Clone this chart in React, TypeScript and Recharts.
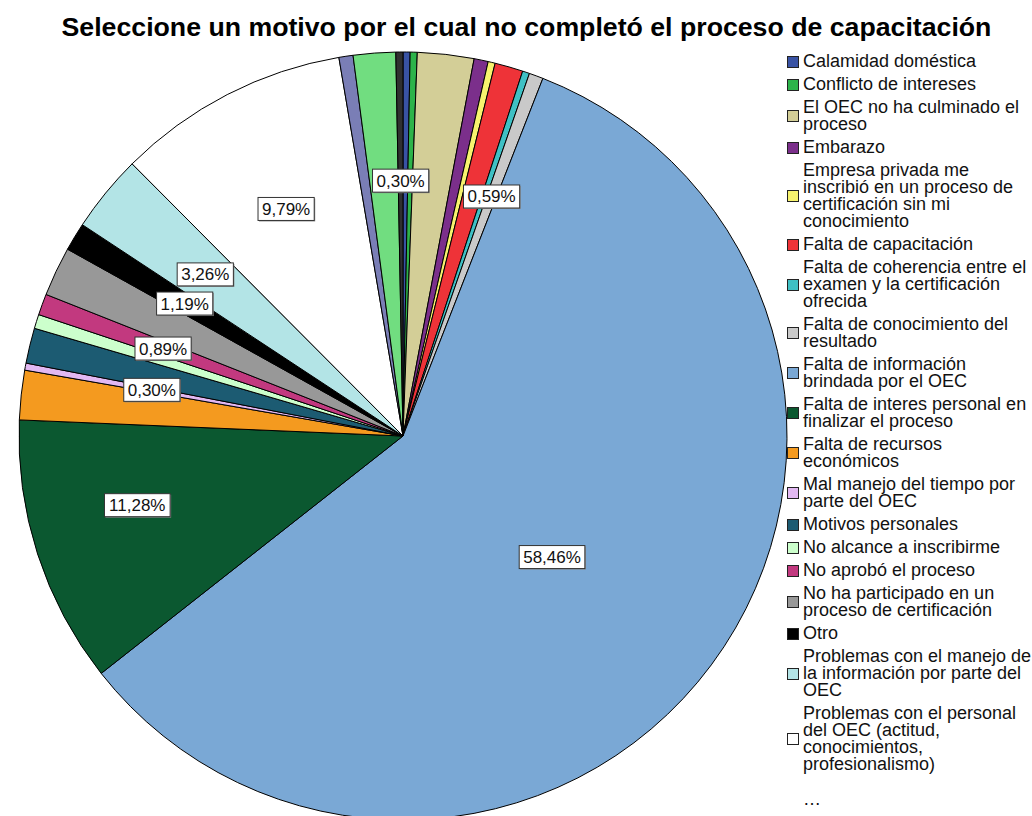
import React from 'react';
import { PieChart, Pie, Cell, Legend } from 'recharts';

// Respuestas (n = 337), en el orden de SPSS
const categories = [
  'Calamidad doméstica',
  'Conflicto de intereses',
  'El OEC no ha culminado el proceso',
  'Embarazo',
  'Empresa privada me inscribió en un proceso de certificación sin mi conocimiento',
  'Falta de capacitación',
  'Falta de coherencia entre el examen y la certificación ofrecida',
  'Falta de conocimiento del resultado',
  'Falta de información brindada por el OEC',
  'Falta de interes personal en finalizar el proceso',
  'Falta de recursos económicos',
  'Mal manejo del tiempo por parte del OEC',
  'Motivos personales',
  'No alcance a inscribirme',
  'No aprobó el proceso',
  'No ha participado en un proceso de certificación',
  'Otro',
  'Problemas con el manejo de la información por parte del OEC',
  'Problemas con el personal del OEC (actitud, conocimientos, profesionalismo)',
  'Otro motivo (a)',
  'Otro motivo (b)',
  'Otro motivo (c)',
];

const counts = [1, 1, 8, 2, 1, 4, 1, 2, 197, 38, 7, 1, 5, 2, 3, 7, 4, 11, 33, 2, 6, 1];

const colors = [
  '#3953a4', '#2db34a', '#d3ce97', '#7b2f8b', '#f7f36e', '#ee3338', '#3fc0c4',
  '#c9c9c9', '#7aa8d5', '#0b5830', '#f49a1f', '#e2b8f2', '#1c5b72', '#ccffcc',
  '#c2397f', '#989898', '#000000', '#b3e4e6', '#ffffff', '#7a7eb6', '#71dd80',
  '#303030',
];

// slices that carry a percentage label
const labeled = [
  'Falta de conocimiento del resultado',
  'Falta de información brindada por el OEC',
  'Falta de interes personal en finalizar el proceso',
  'Mal manejo del tiempo por parte del OEC',
  'No aprobó el proceso',
  'Otro',
  'Problemas con el manejo de la información por parte del OEC',
  'Problemas con el personal del OEC (actitud, conocimientos, profesionalismo)',
  'Otro motivo (c)',
];

// SPSS only lists the first 19 entries, then "…"
const legendShown = 19;

const data = categories.map((name, i) => ({ name, value: counts[i] }));

const FONT = '"Liberation Sans", Arial, sans-serif';
const RAD = Math.PI / 180;

const charW: Record<string, number> = { ',': 0.278, '%': 0.889 };
const textWidth = (s: string, size: number) =>
  s.split('').reduce((w, c) => w + (charW[c] ?? 0.556), 0) * size;

const renderLabel = (props: any) => {
  const { cx, cy, midAngle, outerRadius, percent, name } = props;
  if (!labeled.includes(name)) return null;
  let factor = 0.665;
  let shift = 0;
  if (name === 'Falta de información brindada por el OEC') {
    factor = 0.5;
    shift = -2.5;
  }
  if (name === 'Falta de interes personal en finalizar el proceso') {
    factor = 0.715;
    shift = -3.3;
  }
  const a = (midAngle + shift) * RAD;
  const r = outerRadius * factor;
  const x = cx + r * Math.cos(-a);
  const y = cy + r * Math.sin(-a);
  const text = (percent * 100).toFixed(2).replace('.', ',') + '%';
  const w = textWidth(text, 17) + 8;
  const h = 23;
  return (
    <g>
      <rect x={x - w / 2 + 1} y={y - h / 2 + 1} width={w} height={h} fill="#8a8a8a" />
      <rect x={x - w / 2} y={y - h / 2} width={w} height={h} fill="#ffffff" stroke="#333333" strokeWidth={1} />
      <text x={x} y={y + 6} textAnchor="middle" fontFamily={FONT} fontSize={17} fill="#111111">
        {text}
      </text>
    </g>
  );
};

const renderLegend = () => (
  <div style={{ fontFamily: FONT, fontSize: 18, lineHeight: '17px', color: '#111' }}>
    {categories.slice(0, legendShown).map((name, i) => (
      <div key={name} style={{ display: 'flex', alignItems: 'center', marginBottom: 6 }}>
        <span
          style={{
            width: 12,
            height: 12,
            boxSizing: 'border-box',
            border: '1px solid #222',
            background: colors[i],
            marginRight: 4,
            flex: 'none',
          }}
        />
        <span style={{ width: 230 }}>{name}</span>
      </div>
    ))}
    <div style={{ paddingLeft: 16, marginTop: 18 }}>…</div>
  </div>
);

export default function App() {
  return (
    <div
      style={{
        position: 'absolute',
        left: 0,
        top: 0,
        width: 1032,
        height: 816,
        overflow: 'hidden',
        background: '#ffffff',
      }}
    >
      <div
        style={{
          position: 'absolute',
          left: 0,
          top: 12,
          width: 1032,
          boxSizing: 'border-box',
          paddingLeft: 21,
          textAlign: 'center',
          fontFamily: FONT,
          fontWeight: 'bold',
          fontSize: 26.7,
          lineHeight: '30px',
          color: '#000',
          zIndex: 2,
          whiteSpace: 'nowrap',
        }}
      >
        Seleccione un motivo por el cual no completó el proceso de capacitación
      </div>
      <PieChart width={1032} height={816}>
        <Pie
          data={data}
          dataKey="value"
          nameKey="name"
          cx={398}
          cy={431}
          outerRadius={384}
          startAngle={90}
          endAngle={-270}
          stroke="#000000"
          strokeWidth={1}
          label={renderLabel}
          labelLine={false}
          isAnimationActive={false}
        >
          {data.map((d, i) => (
            <Cell key={d.name} fill={colors[i]} />
          ))}
        </Pie>
        <Legend
          layout="vertical"
          align="right"
          verticalAlign="top"
          content={renderLegend}
          wrapperStyle={{ left: 787, top: 53, right: 'auto', bottom: 'auto', width: 250 }}
        />
      </PieChart>
    </div>
  );
}
